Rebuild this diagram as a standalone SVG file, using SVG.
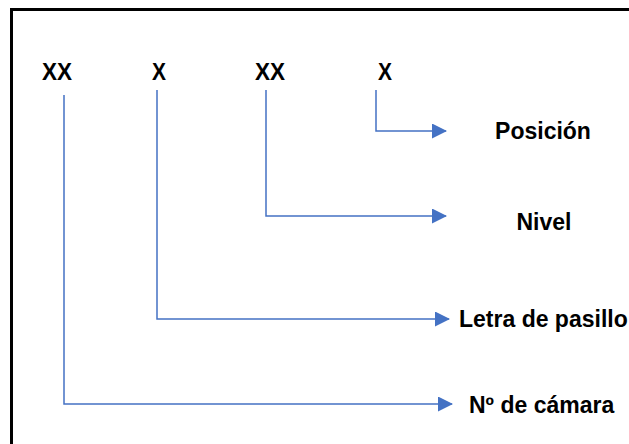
<svg xmlns="http://www.w3.org/2000/svg" width="629" height="444" viewBox="0 0 629 444">
  <style>
    .code { font-family: "Liberation Sans", Arial, sans-serif; font-weight: bold; font-size: 24px; fill: #000; }
    .label { font-family: "Liberation Sans", Arial, sans-serif; font-weight: bold; font-size: 23px; fill: #000; }
    .link { fill: none; stroke: #4472C4; stroke-width: 1.5; marker-end: url(#arrow); }
  </style>
  <defs>
    <marker id="arrow" markerUnits="userSpaceOnUse" markerWidth="15" markerHeight="15" refX="14" refY="7.5" orient="auto">
      <path d="M0,0 L15,7.5 L0,15 Z" fill="#4472C4"/>
    </marker>
  </defs>
  <rect width="629" height="444" fill="#fff"/>
  <!-- frame (open to the right and bottom) -->
  <path d="M11.5,444 V9.5 H629" fill="none" stroke="#000" stroke-width="3"/>

  <g id="code-camara"><text class="code" x="42" y="80" textLength="30" lengthAdjust="spacingAndGlyphs">XX</text></g>
  <g id="code-pasillo"><text class="code" x="152" y="80" textLength="14" lengthAdjust="spacingAndGlyphs">X</text></g>
  <g id="code-nivel"><text class="code" x="255" y="80" textLength="30" lengthAdjust="spacingAndGlyphs">XX</text></g>
  <g id="code-posicion"><text class="code" x="378" y="80" textLength="14" lengthAdjust="spacingAndGlyphs">X</text></g>

  <g id="label-posicion"><text class="label" x="543" y="139" text-anchor="middle">Posición</text></g>
  <g id="label-nivel"><text class="label" x="544" y="230" text-anchor="middle">Nivel</text></g>
  <g id="label-pasillo"><text class="label" x="459" y="327">Letra de pasillo</text></g>
  <g id="label-camara"><text class="label" x="469" y="413">Nº de cámara</text></g>

  <g id="connectors">
    <path class="link" d="M376,90 V131 H446"/>
    <path class="link" d="M266,90 V216 H446"/>
    <path class="link" d="M157,90 V319 H449"/>
    <path class="link" d="M64,95 V404 H452"/>
  </g>
</svg>
